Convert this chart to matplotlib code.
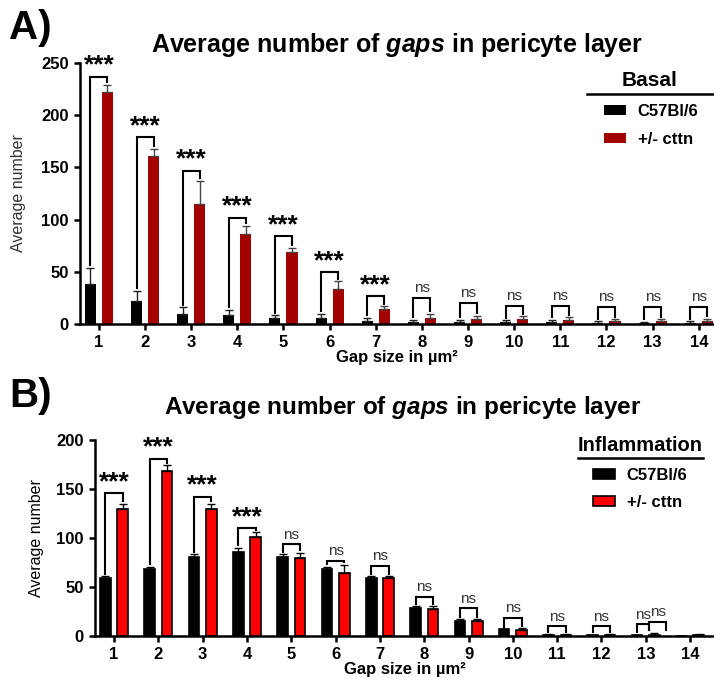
import numpy as np
import matplotlib
matplotlib.use("Agg")
import matplotlib.pyplot as plt
from matplotlib.lines import Line2D

plt.rcParams['font.family'] = ['Liberation Sans', 'DejaVu Sans']
plt.rcParams['mathtext.fontset'] = 'custom'
plt.rcParams['mathtext.rm'] = 'Liberation Sans:bold'
plt.rcParams['mathtext.bf'] = 'Liberation Sans:bold'
plt.rcParams['mathtext.bfit'] = 'Liberation Sans:bold:italic'

# ---- data ----
gap_sizes = list(range(1, 15))

# A) basal
a_wt = [38, 22, 10, 9, 6, 6, 3, 2, 2, 1.5, 1.5, 1, 0.5, 1]
a_wt_err = [16, 10, 6, 4.5, 2.5, 3.5, 3, 2, 2, 2, 2.5, 1.5, 1.5, 1.5]
a_ko = [222, 161, 115, 86, 69, 34, 14, 6, 5, 4.5, 3.5, 2.5, 2.5, 3]
a_ko_err = [7, 7, 22, 8, 4, 7, 3, 4, 3, 3, 3, 2, 2, 2]
a_sig = ['***'] * 7 + ['ns'] * 7
a_bracket = [237, 179, 147, 102, 84, 50, 27, 25, 20, 17.5, 17.5, 16, 16, 16]

# B) inflammation
b_wt = [58.5, 68.5, 80, 86, 80, 68.5, 58.5, 28, 15, 6.5, 1, 0.5, 0.5, 0]
b_wt_err = [2.5, 2, 3, 4, 3, 2, 2.5, 2, 2, 0, 0.5, 0.5, 0.5, 0]
b_ko = [129.5, 168.5, 129.5, 100.5, 79, 64.5, 58.5, 27, 15, 6, 1, 1, 1, 1]
b_ko_err = [5.5, 6, 5.5, 5, 6, 8, 2.5, 3, 2, 1.5, 0.5, 0.5, 2, 0.5]
b_sig = ['***'] * 4 + ['ns'] * 9
b_bracket = [146, 181, 142, 110, 93.5, 76.5, 71.5, 40, 28, 18.5, 10, 10, 12]
# extra stray bracket near size 13 in the original figure: (x0, x1, height, label)
b_extra = [(13.08, 13.46, 14.3, 'ns')]

labels = ['C57Bl/6', '+/- cttn']

W, H = 714, 683
fig = plt.figure(figsize=(W / 100, H / 100), dpi=100)


def px_axes(l, t, r, b):
    return [l / W, 1 - b / H, (r - l) / W, (b - t) / H]


def style_axes(ax, ymax, ystep):
    for s in ['top', 'right']:
        ax.spines[s].set_visible(False)
    for s in ['left', 'bottom']:
        ax.spines[s].set_linewidth(1.8)
    ax.set_ylim(0, ymax)
    ax.set_yticks(np.arange(0, ymax + 1, ystep))
    ax.set_xticks(gap_sizes)
    ax.tick_params(axis='both', length=4.5, width=1.8, labelsize=12, pad=3.5)
    for t in ax.get_xticklabels() + ax.get_yticklabels():
        t.set_fontweight('bold')
    ax.set_xlabel('Gap size in \u00b5m\u00b2', fontsize=12, fontweight='bold', labelpad=0)


def draw_brackets(ax, x0s, x1s, tops, lows_l, lows_r, sigs, star_size, ns_size):
    for x0, x1, top, l0, l1, s in zip(x0s, x1s, tops, lows_l, lows_r, sigs):
        ax.plot([x0, x0, x1, x1], [l0, top, top, l1], color='black', lw=1.5,
                solid_joinstyle='miter', clip_on=False)
        xm = (x0 + x1) / 2
        if s == 'ns':
            ax.text(xm, top + 3 * ax.get_ylim()[1] / 250, s, ha='center', va='bottom',
                    fontsize=ns_size, color='#333333')
        else:
            ax.text(xm, top - 1, s, ha='center', va='bottom', fontsize=star_size,
                    fontweight='bold')


x = np.array(gap_sizes, dtype=float)

# ---------------- panel A ----------------
axA = fig.add_axes(px_axes(80, 63, 714, 324))
offA, wA = 0.185, 0.24
redA = '#a30000'
bA1 = axA.bar(x - offA, a_wt, wA, color='black', label=labels[0])
bA2 = axA.bar(x + offA, a_ko, wA, color=redA, label=labels[1])
axA.errorbar(x - offA, a_wt, yerr=[np.zeros(14), a_wt_err], fmt='none', ecolor='#222222',
             elinewidth=1, capsize=3, capthick=1)
axA.errorbar(x + offA, a_ko, yerr=[np.zeros(14), a_ko_err], fmt='none', ecolor='#444444',
             elinewidth=1, capsize=3, capthick=1)
axA.set_xlim(0.59, 14.33)
style_axes(axA, 250, 50)
gapA = 2.5
draw_brackets(axA, x - offA, x + offA, a_bracket,
              np.array(a_wt) + np.array(a_wt_err) + gapA,
              np.array(a_ko) + np.array(a_ko_err) + gapA, a_sig, 19, 11)
axA.set_ylabel('Average number', fontsize=11.5, color='#333333')
axA.yaxis.set_label_coords(-0.085, 0.5)

legA = axA.legend(handles=[bA1, bA2], loc='upper left', frameon=False,
                  bbox_to_anchor=(604 / W, 1 - 104 / H), bbox_transform=fig.transFigure,
                  handlelength=1.32, handleheight=0.55, handletextpad=0.7,
                  labelspacing=0.8, borderpad=0, borderaxespad=0,
                  prop={'weight': 'bold', 'size': 12})
fig.text(650 / W, 1 - 86 / H, 'Basal', ha='center', va='baseline', fontsize=15,
         fontweight='bold')
fig.add_artist(Line2D([587 / W, 714 / W], [1 - 94 / H, 1 - 94 / H], color='black', lw=1.8))

# ---------------- panel B ----------------
axB = fig.add_axes(px_axes(95, 440, 714, 635.7))
offB, wB = 0.196, 0.24
bB1 = axB.bar(x - offB, b_wt, wB, color='black', edgecolor='black', lw=1.2, label=labels[0])
bB2 = axB.bar(x + offB, b_ko, wB, color='#ff0000', edgecolor='black', lw=1.2, label=labels[1])
axB.errorbar(x - offB, b_wt, yerr=[np.zeros(14), b_wt_err], fmt='none', ecolor='black',
             elinewidth=1, capsize=3, capthick=1)
axB.errorbar(x + offB, b_ko, yerr=[np.zeros(14), b_ko_err], fmt='none', ecolor='black',
             elinewidth=1, capsize=3, capthick=1)
axB.set_xlim(0.57, 14.54)
style_axes(axB, 200, 50)
gapB = 2.5
nB = len(b_bracket)
x1B = list(x[:nB] + offB)
x1B[-1] = b_extra[0][0]
draw_brackets(axB, x[:nB] - offB, x1B, b_bracket,
              np.array(b_wt[:nB]) + np.array(b_wt_err[:nB]) + gapB,
              np.array(b_ko[:nB]) + np.array(b_ko_err[:nB]) + gapB, b_sig, 19, 11)
for ex0, ex1, eh, es in b_extra:
    draw_brackets(axB, [ex0], [ex1], [eh], [eh - 8], [b_ko[12] + b_ko_err[12] + gapB],
                  [es], 19, 11)
axB.set_ylabel('Average number', fontsize=11.5)
axB.yaxis.set_label_coords(-0.083, 0.5)

legB = axB.legend(handles=[bB1, bB2], loc='upper left', frameon=False,
                  bbox_to_anchor=(593 / W, 1 - 468 / H), bbox_transform=fig.transFigure,
                  handlelength=1.32, handleheight=0.55, handletextpad=0.7,
                  labelspacing=0.72, borderpad=0, borderaxespad=0,
                  prop={'weight': 'bold', 'size': 12})
fig.text(640 / W, 1 - 451 / H, 'Inflammation', ha='center', va='baseline', fontsize=14.5,
         fontweight='bold')
fig.add_artist(Line2D([578 / W, 703 / W], [1 - 458 / H, 1 - 458 / H], color='black', lw=1.8))

# ---------------- titles / panel letters ----------------
title = r'Average number of $\mathbfit{gaps}$ in pericyte layer'
fig.text(397 / W, 1 - 51.7 / H, title, ha='center', va='baseline', fontsize=18,
         fontweight='bold')
fig.text(403 / W, 1 - 414 / H, title, ha='center', va='baseline', fontsize=17.5,
         fontweight='bold')
fig.text(9 / W, 1 - 39 / H, 'A)', ha='left', va='baseline', fontsize=29, fontweight='bold')
fig.text(9 / W, 1 - 407 / H, 'B)', ha='left', va='baseline', fontsize=29, fontweight='bold')

fig.savefig('out.png', dpi=100)
